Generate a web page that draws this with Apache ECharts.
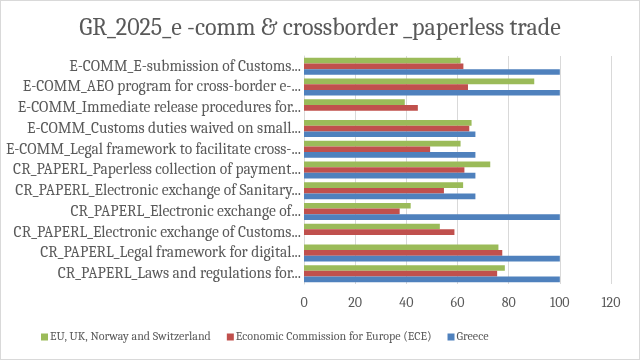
<!DOCTYPE html>
<html><head><meta charset="utf-8">
<script src="https://cdn.jsdelivr.net/npm/echarts@6/dist/echarts.min.js"></script>
<style>
html,body{margin:0;padding:0;background:#fff;}
#c{width:640px;height:360px;box-sizing:border-box;border:1px solid #d9d9d9;}
</style></head>
<body><div id="c"></div>
<script>
// categories listed bottom to top (Excel order)
const categories = [
  "CR_PAPERL_Laws and regulations for...",
  "CR_PAPERL_Legal framework for digital...",
  "CR_PAPERL_Electronic exchange of Customs...",
  "CR_PAPERL_Electronic exchange of...",
  "CR_PAPERL_Electronic exchange of Sanitary...",
  "CR_PAPERL_Paperless collection of payment...",
  "E-COMM_Legal framework to facilitate cross-...",
  "E-COMM_Customs duties waived on small...",
  "E-COMM_Immediate release procedures for...",
  "E-COMM_AEO program for cross-border e-...",
  "E-COMM_E-submission of Customs..."
];
const greece = [100, 100, 0, 100, 67, 67, 67, 67, 0, 100, 100];
const ece    = [75.5, 77.5, 58.8, 37.4, 54.7, 62.7, 49.3, 64.6, 44.5, 64.1, 62.3];
const euUk   = [78.5, 76, 53.1, 41.7, 62.2, 72.8, 61.2, 65.5, 39.4, 90, 61.2];
const xTicks = [0, 20, 40, 60, 80, 100, 120];

const seriesNames = ["EU, UK, Norway and Switzerland", "Economic Commission for Europe (ECE)", "Greece"];
const colors = ["#9BBB59", "#C0504D", "#4F81BD"];
const font = "Cambria, 'Liberation Serif', serif";

const chart = echarts.init(document.getElementById('c'));
chart.setOption({
  animation: false,
  textStyle: {fontFamily: font},
  title: {
    text: "GR_2025_e -comm & crossborder _paperless trade",
    left: 'center', top: 10,
    textStyle: {fontFamily: font, fontSize: 24, fontWeight: 'normal', color: '#595959'}
  },
  legend: {
    data: seriesNames,
    bottom: 11, left: 35,
    itemWidth: 7, itemHeight: 7, itemGap: 16,
    icon: 'rect',
    textStyle: {fontFamily: font, fontSize: 12, color: '#595959', padding: [0, 0, 0, -3]}
  },
  grid: {left: 303, right: 28, top: 55, bottom: 75, containLabel: false},
  xAxis: {
    type: 'value', min: xTicks[0], max: xTicks[xTicks.length - 1], interval: 20,
    axisLabel: {fontFamily: font, fontSize: 14, color: '#595959', margin: 12},
    axisLine: {show: false}, axisTick: {show: false},
    splitLine: {lineStyle: {color: '#d9d9d9'}}
  },
  yAxis: {
    type: 'category', data: categories,
    axisLabel: {fontFamily: font, fontSize: 15.5, color: '#595959', margin: 3, interval: 0},
    axisLine: {lineStyle: {color: '#d9d9d9'}}, axisTick: {show: false}
  },
  series: [
    {name: seriesNames[0], type: 'bar', data: euUk, itemStyle: {color: colors[0]}, barGap: '0%', barCategoryGap: '18%'},
    {name: seriesNames[1], type: 'bar', data: ece, itemStyle: {color: colors[1]}},
    {name: seriesNames[2], type: 'bar', data: greece, itemStyle: {color: colors[2]}}
  ]
});
</script></body></html>
